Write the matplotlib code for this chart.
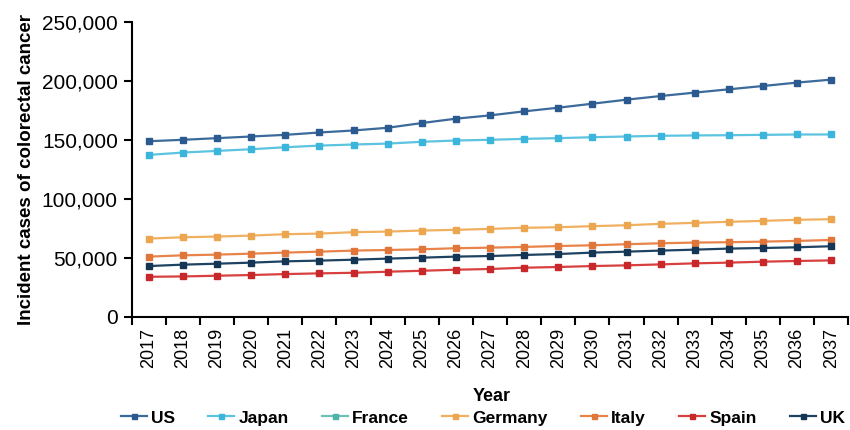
import numpy as np
import matplotlib
matplotlib.use("Agg")
import matplotlib.pyplot as plt

plt.rcParams['font.family'] = ['Liberation Sans', 'DejaVu Sans']

# ---- data ----
years = list(range(2017, 2038))

us = [148.9, 150.1, 151.5, 152.9, 154.3, 156.3, 158.0, 160.3, 164.3, 168.0, 170.8,
      174.2, 177.3, 180.7, 184.1, 187.2, 190.1, 192.9, 195.7, 198.6, 201.1]
japan = [137.3, 139.3, 140.7, 142.1, 143.8, 145.2, 146.1, 146.9, 148.4, 149.5, 150.1,
         150.9, 151.5, 152.3, 152.9, 153.5, 153.8, 154.0, 154.3, 154.6, 154.6]
france = []  # listed in the legend, no visible line in the figure
germany = [66.4, 67.5, 68.1, 68.9, 70.1, 70.6, 71.8, 72.3, 73.2, 73.8, 74.6,
           75.5, 76.0, 76.9, 77.7, 78.9, 79.7, 80.6, 81.4, 82.3, 82.8]
italy = [51.1, 52.2, 52.8, 53.6, 54.5, 55.3, 56.2, 56.7, 57.3, 58.2, 58.7,
         59.3, 60.1, 60.7, 61.6, 62.4, 63.0, 63.3, 63.8, 64.4, 65.2]
spain = [34.0, 34.3, 34.9, 35.5, 36.3, 36.9, 37.4, 38.3, 39.1, 40.0, 40.6,
         41.7, 42.3, 43.1, 43.7, 44.5, 45.4, 46.0, 46.8, 47.4, 47.9]
uk = [43.1, 44.3, 45.1, 46.0, 47.1, 47.7, 48.5, 49.4, 50.2, 51.1, 51.6,
      52.5, 53.3, 54.5, 55.3, 56.2, 57.0, 57.9, 58.4, 59.0, 59.9]

series = [
    ("US", us, "#3c6a9a", "#2a5a8f"),
    ("Japan", japan, "#5cc3e0", "#3bb5db"),
    ("France", france, "#6cc0b8", "#4fb3aa"),
    ("Germany", germany, "#f0b060", "#eda650"),
    ("Italy", italy, "#e8844a", "#e0763a"),
    ("Spain", spain, "#d84040", "#c8282a"),
    ("UK", uk, "#1e4262", "#143654"),
]

fig = plt.figure(figsize=(8.5, 4.3), dpi=100)
ax = fig.add_axes([0.155, 0.263, 0.843, 0.686])

x = np.arange(len(years))
for name, vals, lc, mc in series:
    xs = x[:len(vals)]
    ys = np.array(vals) * 1000
    ax.plot(xs, ys, color=lc, lw=1.6, marker='s', ms=4.5,
            mfc=mc, mec=mc, label=name)

ax.set_ylim(0, 250000)
ax.set_xlim(-0.5, 20.3)
ax.set_yticks(np.arange(0, 250001, 50000))
ax.set_yticklabels([f"{v:,}" for v in range(0, 250001, 50000)], fontsize=15)

ax.set_xticks(x)
ax.set_xticklabels([str(y) for y in years], rotation=90, fontsize=13)
ax.set_xticks(np.arange(-0.5, 20.6, 1), minor=True)
ax.tick_params(axis='x', which='major', length=0, pad=8)
ax.tick_params(axis='x', which='minor', length=6, width=1.5, direction='out')
ax.tick_params(axis='y', length=6, width=1.5, direction='out', pad=4)

for s in ['top', 'right']:
    ax.spines[s].set_visible(False)
for s in ['left', 'bottom']:
    ax.spines[s].set_linewidth(1.5)

ax.set_ylabel("Incident cases of colorectal cancer", fontsize=13.5, fontweight='bold', labelpad=5)
fig.text(0.578, 0.077, "Year", ha='center', va='center', fontsize=13, fontweight='bold')

leg = fig.legend(loc='center', bbox_to_anchor=(0.568, 0.028), ncol=7, frameon=False,
                 prop={'size': 12.5, 'weight': 'bold'}, handlelength=1.5,
                 handletextpad=0.25, columnspacing=1.9, markerscale=0.8)

fig.savefig("out.png", dpi=100)
